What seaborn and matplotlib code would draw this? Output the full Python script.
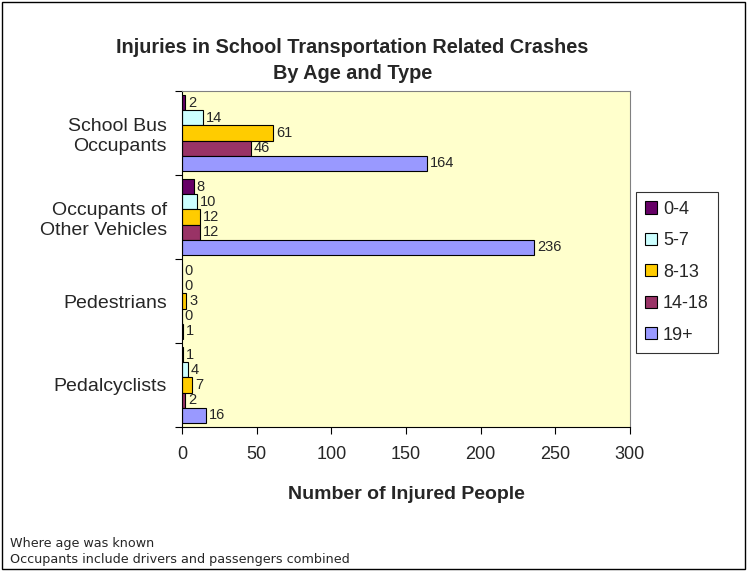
import matplotlib
matplotlib.use('Agg')
import matplotlib.pyplot as plt
import pandas as pd
import seaborn as sns
from matplotlib.patches import Rectangle

# Chart data
categories = ['School Bus\nOccupants', 'Occupants of\nOther Vehicles', 'Pedestrians', 'Pedalcyclists']
age_groups = ['0-4', '5-7', '8-13', '14-18', '19+']
age_0_4 = [2, 8, 0, 1]
age_5_7 = [14, 10, 0, 4]
age_8_13 = [61, 12, 3, 7]
age_14_18 = [46, 12, 0, 2]
age_19_plus = [164, 236, 1, 16]
colors = ['#660066', '#CCFFFF', '#FFCC00', '#993366', '#9999FF']


def build_frame():
    """Put the series into long form for seaborn"""
    series = [age_0_4, age_5_7, age_8_13, age_14_18, age_19_plus]
    rows = []
    for age, vals in zip(age_groups, series):
        for cat, v in zip(categories, vals):
            rows.append({'category': cat, 'age': age, 'value': v})
    return pd.DataFrame(rows)


def draw_chart():
    df = build_frame()
    sns.set_style('white')
    plt.rcParams['font.family'] = ['Liberation Sans', 'DejaVu Sans']

    fig = plt.figure(figsize=(7.48, 5.71), dpi=100)
    ax = fig.add_axes([0.2433, 0.2522, 0.5989, 0.5884])
    ax.set_facecolor('#FFFFCC')

    sns.barplot(data=df, y='category', x='value', hue='age', orient='h',
                order=categories, hue_order=age_groups, palette=colors,
                saturation=1, edgecolor='black', linewidth=0.8, width=0.9,
                ax=ax, legend=True)

    for cont in ax.containers:
        ax.bar_label(cont, padding=2, fontsize=10.5)

    ax.set_xlim(0, 300)
    ax.set_xticks(range(0, 301, 50))
    ax.tick_params(axis='x', labelsize=13, length=5, direction='out',
                   bottom=True, color='black', pad=9)
    ax.set_ylim(3.5, -0.5)
    ax.set_yticks([-0.5, 0.5, 1.5, 2.5, 3.5])
    ax.set_yticklabels([])
    ax.set_yticks(range(len(categories)), minor=True)
    ax.set_yticklabels(categories, minor=True, fontsize=14)
    ax.tick_params(axis='y', which='major', length=5, left=True, color='black')
    ax.tick_params(axis='y', which='minor', length=0, pad=11)
    ax.set_ylabel('')
    ax.set_xlabel('Number of Injured People', fontsize=14, fontweight='bold', labelpad=16)

    for side in ['left', 'bottom']:
        ax.spines[side].set_color('black')
    for side in ['top', 'right']:
        ax.spines[side].set_color('#808080')

    leg = ax.legend(loc='upper left', bbox_to_anchor=(1.013, 0.7), frameon=True,
                    fancybox=False, edgecolor='black', fontsize=13,
                    handlelength=0.65, handleheight=0.65, handletextpad=0.35,
                    labelspacing=0.8, borderpad=0.5, borderaxespad=0.0)
    leg.get_frame().set_linewidth(0.8)

    fig.text(0.471, 0.933, 'Injuries in School Transportation Related Crashes\nBy Age and Type',
             ha='center', va='top', fontsize=14.3, fontweight='bold', linespacing=1.45)
    fig.text(0.013, 0.034, 'Where age was known\nOccupants include drivers and passengers combined',
             ha='left', va='center', fontsize=9.2, family=['DejaVu Sans'], linespacing=1.25)

    fig.patches.append(Rectangle((0.003, 0.004), 0.993, 0.992, transform=fig.transFigure,
                                 fill=False, edgecolor='black', linewidth=1))

    fig.savefig('out.png', dpi=100)
    return fig


if __name__ == "__main__":
    draw_chart()
